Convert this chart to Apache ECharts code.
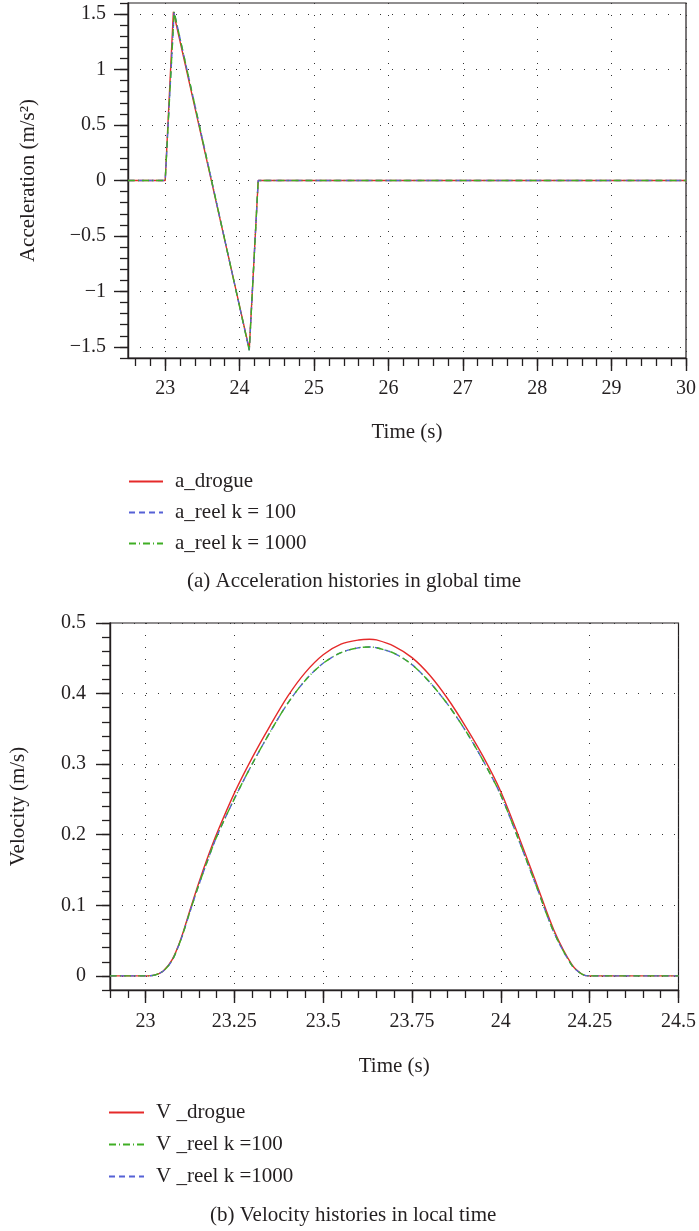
<!DOCTYPE html>
<html>
<head>
<meta charset="utf-8">
<script src="https://cdn.jsdelivr.net/npm/echarts@6/dist/echarts.min.js"></script>
<style>
  html, body { margin: 0; padding: 0; background: #ffffff; }
  #chart { width: 699px; height: 1231px; }
</style>
</head>
<body>
<div id="chart"></div>
<script>
// ---------- (a) Acceleration histories in global time ----------
const accTimeLabels = [23, 24, 25, 26, 27, 28, 29, 30];
const accValueLabels = [-1.5, -1, -0.5, 0, 0.5, 1, 1.5];
const aDrogue    = [[22.5, 0], [23.0, 0], [23.11, 1.52], [24.13, -1.52], [24.25, 0], [30, 0]];
const aReel100   = [[22.5, 0], [23.0, 0], [23.12, 1.52], [24.13, -1.53], [24.25, 0], [30, 0]];
const aReel1000  = [[22.5, 0], [23.0, 0], [23.12, 1.52], [24.13, -1.53], [24.25, 0], [30, 0]];

// ---------- (b) Velocity histories in local time ----------
const velTimeLabels = [23, 23.25, 23.5, 23.75, 24, 24.25, 24.5];
const velValueLabels = [0, 0.1, 0.2, 0.3, 0.4, 0.5];
const vDrogue = [
  [22.9, 0], [23.0, 0], [23.025, 0.001], [23.05, 0.007], [23.075, 0.023], [23.1, 0.053],
  [23.125, 0.093], [23.15, 0.132], [23.175, 0.168], [23.2, 0.201], [23.25, 0.259],
  [23.3, 0.309], [23.35, 0.354], [23.4, 0.396], [23.45, 0.430], [23.5, 0.455],
  [23.55, 0.470], [23.6, 0.476], [23.63, 0.477], [23.65, 0.476], [23.7, 0.467],
  [23.75, 0.451], [23.8, 0.426], [23.85, 0.393], [23.9, 0.354], [23.95, 0.311],
  [24.0, 0.261], [24.05, 0.198], [24.1, 0.131], [24.15, 0.064], [24.2, 0.016],
  [24.23, 0.002], [24.25, 0], [24.5, 0]
];
const vReel100 = [
  [22.9, 0], [23.0, 0], [23.025, 0.001], [23.05, 0.007], [23.075, 0.022], [23.1, 0.052],
  [23.125, 0.091], [23.15, 0.129], [23.175, 0.164], [23.2, 0.197], [23.25, 0.251],
  [23.3, 0.300], [23.35, 0.345], [23.4, 0.386], [23.45, 0.419], [23.5, 0.443],
  [23.55, 0.458], [23.6, 0.465], [23.63, 0.466], [23.65, 0.465], [23.7, 0.457],
  [23.75, 0.441], [23.8, 0.416], [23.85, 0.385], [23.9, 0.348], [23.95, 0.305],
  [24.0, 0.256], [24.05, 0.193], [24.1, 0.127], [24.15, 0.061], [24.2, 0.015],
  [24.23, 0.002], [24.25, 0], [24.5, 0]
];
const vReel1000 = [
  [22.9, 0], [23.0, 0], [23.025, 0.001], [23.05, 0.007], [23.075, 0.022], [23.1, 0.052],
  [23.125, 0.091], [23.15, 0.129], [23.175, 0.164], [23.2, 0.197], [23.25, 0.251],
  [23.3, 0.300], [23.35, 0.345], [23.4, 0.386], [23.45, 0.419], [23.5, 0.443],
  [23.55, 0.458], [23.6, 0.465], [23.63, 0.466], [23.65, 0.465], [23.7, 0.457],
  [23.75, 0.441], [23.8, 0.416], [23.85, 0.385], [23.9, 0.348], [23.95, 0.305],
  [24.0, 0.256], [24.05, 0.193], [24.1, 0.127], [24.15, 0.061], [24.2, 0.015],
  [24.23, 0.002], [24.25, 0], [24.5, 0]
];

// ---------- helpers (layout only) ----------
function steps(from, to, step) {
  const out = [];
  const n = Math.round((to - from) / step);
  for (let i = 0; i <= n; i++) out.push(Math.round((from + i * step) * 10000) / 10000);
  return out;
}
const FONT = '"Liberation Serif", "DejaVu Serif", serif';
const INK = '#231f20';
const RED = '#e52a2a', BLUE = '#5561d6', GREEN = '#3fae24';
const fmt = v => String(v).replace('-', '\u2212');
const grid = '#333333';
const labelStyle = { fontFamily: FONT, fontSize: 20, color: INK };

function majorAxis(dim, gridIndex, min, max, labels, extra, margin) {
  return Object.assign({
    type: 'value', gridIndex, min, max,
    position: dim === 'x' ? 'bottom' : 'left',
    axisLine: { show: true, onZero: false, lineStyle: { color: INK, width: 1.4 } },
    axisTick: { show: true, customValues: labels, length: dim === 'x' ? 13 : 14, lineStyle: { color: INK, width: 1.4 } },
    axisLabel: Object.assign({ show: true, customValues: labels, formatter: fmt, margin }, labelStyle),
    splitLine: { show: true, lineStyle: { color: grid, width: 1, type: [1, 11] } },
    nameTextStyle: { fontFamily: FONT, fontSize: 21, color: INK },
    nameLocation: 'middle'
  }, extra);
}
function minorAxis(dim, gridIndex, min, max, ticks) {
  return {
    type: 'value', gridIndex, min, max,
    position: dim === 'x' ? 'bottom' : 'left',
    axisLine: { show: false, onZero: false },
    axisTick: { show: true, customValues: ticks, length: 8, lineStyle: { color: INK, width: 1.3 } },
    axisLabel: { show: false },
    splitLine: { show: false }
  };
}
function lineSeries(name, data, color, type, xi, yi, z, smooth) {
  return {
    type: 'line', name, data, xAxisIndex: xi, yAxisIndex: yi,
    symbol: 'none', smooth: smooth || false, z,
    lineStyle: { color, width: 1.4, type },
    itemStyle: { color },
    animation: false
  };
}
const legendCommon = {
  orient: 'vertical', padding: 0, itemHeight: 14,
  itemStyle: { color: 'transparent', borderColor: 'transparent', borderWidth: 0, opacity: 0 },
  textStyle: { fontFamily: FONT, fontSize: 21, color: INK, padding: [0, 0, 0, 7] }
};

const option = {
  animation: false,
  backgroundColor: '#ffffff',
  grid: [
    { left: 128, top: 3, right: 12, height: 355, show: true, borderColor: INK, borderWidth: 1.2, backgroundColor: 'transparent' },
    { left: 109, top: 623, right: 10, height: 367, show: true, borderColor: INK, borderWidth: 1.2, backgroundColor: 'transparent' }
  ],
  xAxis: [
    majorAxis('x', 0, 22.5, 30, accTimeLabels, { name: 'Time (s)', nameGap: 64 }, 21),
    minorAxis('x', 0, 22.5, 30, steps(22.6, 30, 0.2)),
    majorAxis('x', 1, 22.9, 24.5, velTimeLabels, { name: 'Time (s)', nameGap: 66 }, 22),
    minorAxis('x', 1, 22.9, 24.5, steps(22.9, 24.5, 0.05))
  ],
  yAxis: [
    majorAxis('y', 0, -1.6, 1.6, accValueLabels, { name: 'Acceleration (m/s\u00b2)', nameGap: 89 }, 22),
    minorAxis('y', 0, -1.6, 1.6, steps(-1.6, 1.6, 0.1)),
    majorAxis('y', 1, -0.02, 0.5, velValueLabels, { name: 'Velocity (m/s)', nameGap: 81 }, 24),
    minorAxis('y', 1, -0.02, 0.5, steps(-0.02, 0.5, 0.02))
  ],
  legend: [
    Object.assign({}, legendCommon, {
      data: ['a_drogue', 'a_reel k = 100', 'a_reel k = 1000'],
      left: 128, top: 471, itemWidth: 34, itemGap: 10
    }),
    Object.assign({}, legendCommon, {
      data: ['V _drogue', 'V _reel k =100', 'V _reel k =1000'],
      left: 108, top: 1102, itemWidth: 35, itemGap: 11
    })
  ],
  title: [
    { text: '(a) Acceleration histories in global time', left: 187, top: 571, padding: 0,
      textStyle: { fontFamily: FONT, fontSize: 21, fontWeight: 'normal', color: INK } },
    { text: '(b) Velocity histories in local time', left: 210, top: 1205, padding: 0,
      textStyle: { fontFamily: FONT, fontSize: 21, fontWeight: 'normal', color: INK } }
  ],
  series: [
    lineSeries('a_drogue', aDrogue, RED, 'solid', 0, 0, 2),
    lineSeries('a_reel k = 100', aReel100, BLUE, [6, 4], 0, 0, 3),
    lineSeries('a_reel k = 1000', aReel1000, GREEN, [7, 3, 1, 3], 0, 0, 4),
    lineSeries('V _drogue', vDrogue, RED, 'solid', 2, 2, 2, 0.3),
    lineSeries('V _reel k =1000', vReel1000, BLUE, [6, 4], 2, 2, 3, 0.3),
    lineSeries('V _reel k =100', vReel100, GREEN, [7, 3, 1, 3], 2, 2, 4, 0.3)
  ]
};

const chart = echarts.init(document.getElementById('chart'), null, { renderer: 'canvas' });
chart.setOption(option);
</script>
</body>
</html>
